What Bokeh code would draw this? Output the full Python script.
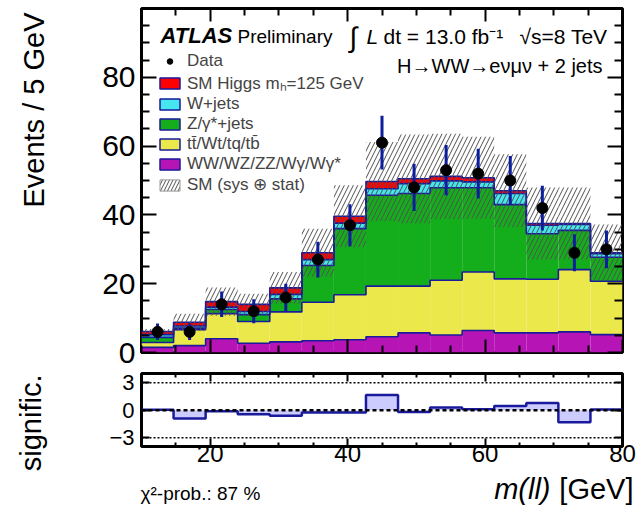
import numpy as np
from bokeh.plotting import figure
from bokeh.models import (Range1d, LinearAxis, FixedTicker, Legend, LegendItem, Label, Span)
from bokeh.layouts import column, row
from bokeh.embed import file_html
from bokeh.resources import INLINE

# ---------------- data ----------------
bin_edges = np.linspace(10.0, 80.0, 16)          # 15 bins, m(ll) [GeV]
data_counts = [6, 6, 14, 12, 16, 27, 37, 61, 48, 53, 52, 50, 42, 29, 30]
data_err = [2.4, 2.4, 3.7, 3.5, 4.0, 5.2, 6.1, 7.8, 6.9, 7.3, 7.2, 7.1, 6.5, 5.4, 5.5]
bkg_ww = [1.5, 2.0, 4.0, 2.7, 3.1, 3.4, 3.7, 4.6, 5.7, 5.1, 6.4, 5.7, 5.7, 6.0, 5.2]
bkg_top = [1.4, 4.6, 7.3, 6.3, 8.7, 11.2, 13.1, 14.7, 13.6, 15.9, 17.0, 15.7, 15.6, 18.1, 15.5]
bkg_zjets = [1.5, 0.5, 1.2, 2.0, 3.8, 10.7, 19.2, 26.4, 26.9, 26.9, 24.5, 21.6, 13.2, 11.4, 7.0]
bkg_wjets = [0.8, 0.6, 0.7, 0.9, 1.3, 1.7, 1.6, 1.9, 2.9, 2.0, 1.7, 3.2, 2.5, 1.7, 1.0]
sig_higgs = [0.9, 1.1, 1.6, 2.1, 1.9, 2.0, 2.0, 2.1, 1.4, 1.3, 1.2, 0.8, 0.5, 0.3, 0.3]
sm_unc = [0.7, 2.5, 4.1, 3.1, 4.6, 7.0, 9.0, 11.5, 12.9, 12.4, 11.9, 10.6, 10.5, 10.5, 8.2]
significance = [0.05, -0.9, -0.1, -0.45, -0.6, -0.25, -0.25, 1.65, -0.2, 0.3, 0.1, 0.45, 0.8, -1.3, 0.07]

main_y_ticks = [0, 20, 40, 60, 80]
main_y_minor = [v for v in range(0, 101, 5) if v % 20]
x_ticks = [20, 40, 60, 80]
x_minor = [v for v in range(10, 81, 5) if v % 20]
sig_ticks = [-3, 0, 3]

# ---------------- style ----------------
FONT = "Liberation Sans"
RED = "#ff0000"
CYAN = "#45e6ee"
GREEN = "#14ae1c"
YELLOW = "#ebe84c"
PURPLE = "#b614b4"
NAVY = "#1a1a9c"
ERRC = "#0c1e9c"
LAV = "#ccccff"
HATCH = "#505050"

PAGE_W, PAGE_H = 636, 513
STRIP_W = 60            # left strip holding the vertical axis titles
FL, FR = 141, 622       # frame left/right on the page
MAIN_H = 371            # main panel canvas: frame 8..352
LOW_H = 100             # ratio panel canvas: frame 373..446
FOOT_H = PAGE_H - MAIN_H - LOW_H
X0, X1 = 10.0, 80.0


def style_axis(ax, major_in, minor_in, label_size=None, standoff=6):
    ax.axis_line_color = None
    ax.major_tick_in = major_in
    ax.major_tick_out = 0
    ax.minor_tick_in = minor_in
    ax.minor_tick_out = 0
    ax.major_tick_line_width = 2
    ax.minor_tick_line_width = 2
    ax.major_tick_line_color = "black"
    ax.minor_tick_line_color = "black"
    if label_size:
        ax.major_label_text_font = FONT
        ax.major_label_text_font_size = f"{label_size}px"
        ax.major_label_text_color = "black"
        ax.major_label_standoff = standoff
    else:
        ax.major_label_text_font_size = "1px"
        ax.major_label_text_color = None
        ax.major_label_standoff = 0


def lab(fig, text, x, y, size, align="left", baseline="middle", style="normal", angle=0.0):
    fig.add_layout(Label(x=x, y=y, text=text, text_font=FONT, text_font_size=f"{size}px",
                         text_align=align, text_baseline=baseline, text_font_style=style,
                         angle=angle, text_color="black"))


def bare(fig):
    fig.outline_line_color = None
    fig.xgrid.visible = False
    fig.ygrid.visible = False
    fig.background_fill_color = "white"
    fig.border_fill_color = "white"


left = bin_edges[:-1]
right = bin_edges[1:]
centers = 0.5 * (left + right)

c_ww = np.array(bkg_ww)
c_top = c_ww + np.array(bkg_top)
c_z = c_top + np.array(bkg_zjets)
c_w = c_z + np.array(bkg_wjets)
c_h = c_w + np.array(sig_higgs)
unc = np.array(sm_unc)


def tx(px):   # page x -> data x inside the main frame
    return X0 + (px - FL) * (X1 - X0) / (FR - FL)


def ty(py):   # page y -> data y in the main frame (8..352 -> 100..0)
    return (352 - py) * 100.0 / 344.0


# ---------------- main panel ----------------
p = figure(width=PAGE_W - STRIP_W, height=MAIN_H, x_range=Range1d(X0, X1), y_range=Range1d(0, 100),
           output_backend="svg", toolbar_location=None,
           min_border_left=FL - STRIP_W, min_border_right=PAGE_W - FR, min_border_top=8,
           min_border_bottom=MAIN_H - 352)
p.outline_line_color = "black"
p.outline_line_width = 3
p.xgrid.visible = False
p.ygrid.visible = False
p.background_fill_color = "white"
p.border_fill_color = "white"

xt = FixedTicker(ticks=x_ticks, minor_ticks=x_minor)
yt = FixedTicker(ticks=main_y_ticks, minor_ticks=main_y_minor)
p.xaxis.ticker = xt
p.yaxis.ticker = yt
style_axis(p.xaxis[0], 13, 7)
style_axis(p.yaxis[0], 15, 8, label_size=30, standoff=6)
ax_top = LinearAxis(ticker=xt)
style_axis(ax_top, 13, 7)
p.add_layout(ax_top, "above")
ax_right = LinearAxis(ticker=yt)
style_axis(ax_right, 15, 8)
p.add_layout(ax_right, "right")

layers = [(np.zeros(len(c_ww)), c_ww, PURPLE), (c_ww, c_top, YELLOW), (c_top, c_z, GREEN),
          (c_z, c_w, CYAN), (c_w, c_h, RED)]
for lo, hi, col in layers:
    p.quad(left=left, right=right, bottom=lo, top=hi, fill_color=col, line_color=None)
for lo, hi, col in layers:
    p.step(x=bin_edges, y=np.append(hi, hi[-1]), mode="after", line_color=NAVY, line_width=1.6)

p.quad(left=left, right=right, bottom=c_h - unc, top=c_h + unc, fill_alpha=0, line_alpha=0,
       hatch_pattern="/", hatch_color=HATCH, hatch_scale=9, hatch_weight=1)

p.segment(x0=centers, y0=np.array(data_counts) - np.array(data_err), x1=centers,
          y1=np.array(data_counts) + np.array(data_err), line_color=ERRC, line_width=3)
r_data = p.scatter(x=centers, y=data_counts, size=11, color="black")

# legend proxies (never drawn: NaN geometry)
nan = [np.nan]


def proxy(**kw):
    return p.quad(left=nan, right=nan, bottom=nan, top=nan, **kw)


r_h = proxy(fill_color=RED, line_color=NAVY, line_width=1.5)
r_w = proxy(fill_color=CYAN, line_color=NAVY, line_width=1.5)
r_z = proxy(fill_color=GREEN, line_color=NAVY, line_width=1.5)
r_t = proxy(fill_color=YELLOW, line_color=NAVY, line_width=1.5)
r_ww = proxy(fill_color=PURPLE, line_color=NAVY, line_width=1.5)
r_unc = proxy(fill_alpha=0, line_color="#999999", line_width=1, hatch_pattern="/",
              hatch_color=HATCH, hatch_scale=7, hatch_weight=1)

legend = Legend(items=[
    LegendItem(label="Data", renderers=[r_data]),
    LegendItem(label="SM Higgs m\u2095=125 GeV", renderers=[r_h]),
    LegendItem(label="W+jets", renderers=[r_w]),
    LegendItem(label="Z/\u03b3*+jets", renderers=[r_z]),
    LegendItem(label="tt\u0304/Wt/tq/tb\u0304", renderers=[r_t]),
    LegendItem(label="WW/WZ/ZZ/W\u03b3/W\u03b3*", renderers=[r_ww]),
    LegendItem(label="SM (sys \u2295 stat)", renderers=[r_unc]),
], location=(16, 157), glyph_width=25, glyph_height=14, label_height=20, spacing=0,
    padding=0, margin=0, border_line_alpha=0, background_fill_alpha=0,
    label_text_font=FONT, label_text_font_size="17px", label_standoff=5)
p.add_layout(legend)

lab(p, "ATLAS", tx(160), ty(35), 22, style="bold italic")
lab(p, "Preliminary", tx(237), ty(35.5), 19)
lab(p, "\u222b", tx(349), ty(37), 28)
lab(p, "L", tx(366), ty(35.5), 21, style="italic")
lab(p, "dt = 13.0 fb\u207b\u00b9", tx(383), ty(35.5), 21)
lab(p, "\u221as=8 TeV", tx(607), ty(35.5), 21, align="right")
lab(p, "H\u2192WW\u2192e\u03bd\u03bc\u03bd + 2 jets", tx(602), ty(65), 20, align="right")

# ---------------- significance panel ----------------
q = figure(width=PAGE_W - STRIP_W, height=LOW_H, x_range=p.x_range, y_range=Range1d(-3.95, 4.0),
           output_backend="svg", toolbar_location=None,
           min_border_left=FL - STRIP_W, min_border_right=PAGE_W - FR, min_border_top=2,
           min_border_bottom=LOW_H - 2 - 73)
q.outline_line_color = "black"
q.outline_line_width = 3
q.xgrid.visible = False
q.ygrid.visible = False
q.background_fill_color = "white"
q.border_fill_color = "white"

st = FixedTicker(ticks=sig_ticks, minor_ticks=[])
q.xaxis.ticker = xt
q.yaxis.ticker = st
style_axis(q.xaxis[0], 8, 4, label_size=24, standoff=-2)
style_axis(q.yaxis[0], 8, 4, label_size=22, standoff=7)
qa_top = LinearAxis(ticker=xt)
style_axis(qa_top, 8, 4)
q.add_layout(qa_top, "above")
qa_right = LinearAxis(ticker=st)
style_axis(qa_right, 8, 4)
q.add_layout(qa_right, "right")

sig = np.array(significance)
q.quad(left=left, right=right, bottom=0, top=sig, fill_color=LAV, line_color=None)
q.step(x=bin_edges, y=np.append(sig, sig[-1]), mode="after", line_color=NAVY, line_width=2.5)
for lvl in (3, -3):
    q.add_layout(Span(location=lvl, dimension="width", line_color="black", line_width=1.5,
                      line_dash="2 2"))
q.add_layout(Span(location=0, dimension="width", line_color="black", line_width=2.5,
                  line_dash="4 3"))

# ---------------- left strip: vertical axis titles (page-pixel coordinates) ----------------
strip = figure(width=STRIP_W, height=MAIN_H + LOW_H, x_range=Range1d(0, STRIP_W),
               y_range=Range1d(MAIN_H + LOW_H, 0), output_backend="svg", toolbar_location=None,
               x_axis_location=None, y_axis_location=None, min_border=0,
               min_border_left=0, min_border_right=0, min_border_top=0, min_border_bottom=0)
bare(strip)
lab(strip, "Events / 5 GeV", 33, 12, 29, align="right", angle=np.pi / 2)
lab(strip, "signific.", 30, 374, 29, align="right", angle=np.pi / 2)

# ---------------- footer strip: chi2 note and x title (page-pixel coordinates) ----------------
top_foot = PAGE_H - FOOT_H
foot = figure(width=PAGE_W, height=FOOT_H, x_range=Range1d(0, PAGE_W),
              y_range=Range1d(PAGE_H, top_foot), output_backend="svg",
              toolbar_location=None, x_axis_location=None, y_axis_location=None, min_border=0,
              min_border_left=0, min_border_right=0, min_border_top=0, min_border_bottom=0)
bare(foot)
lab(foot, "\u03c7\u00b2-prob.: 87 %", 140, 493, 19)
lab(foot, "[GeV]", 633, top_foot + 17, 29, align="right")
lab(foot, "m(ll)", 550, top_foot + 17, 29, align="right", style="italic")

layout = column(row(strip, column(p, q)), foot)
open("out.html", "w").write(file_html(layout, INLINE))
